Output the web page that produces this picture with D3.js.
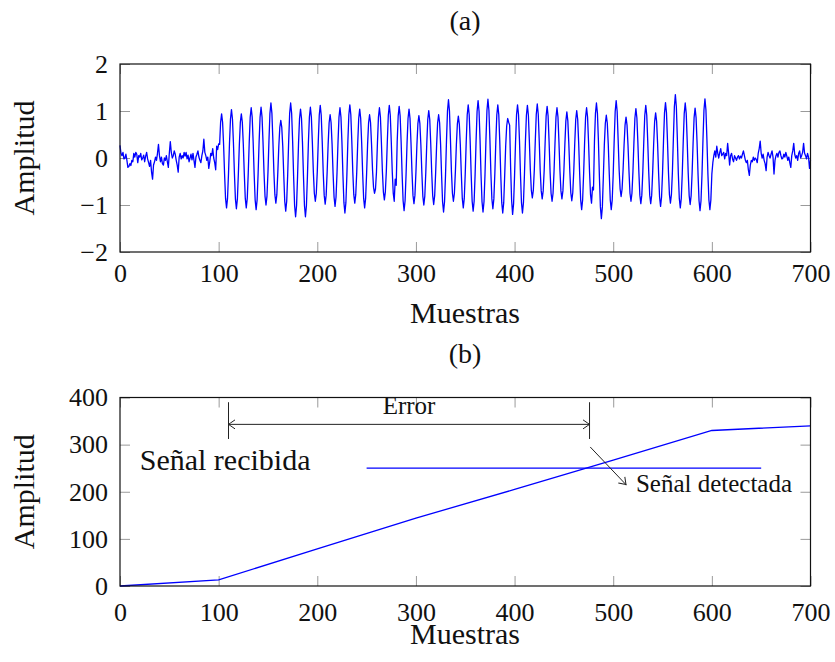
<!DOCTYPE html>
<html>
<head>
<meta charset="utf-8">
<script src="https://cdn.jsdelivr.net/npm/d3@7"></script>
<style>
  body { margin: 0; background: #fff; }
  text { font-family: "Liberation Serif", "Times New Roman", serif; fill: #111; }
</style>
</head>
<body>
<div id="chart"></div>
<script>
// (a) muestras 0..100: ruido antes de la señal
const ruidoInicio = [
  .27, .10, .05, .12, -.02, .00, .08, -.05, -.20, -.18,
  -.12, -.16, -.05, -.08, .10, .02, .12, .08, -.10, .05,
  .02, .10, -.04, .00, .06, -.08, .04, .12, -.02, -.10,
  -.18, -.05, -.30, -.45, -.15, -.08, .02, -.05, .10, .29,
  .05, -.08, .02, -.12, -.15, .00, -.05, .05, -.08, -.20,
  .10, .35, .12, .00, .05, .15, .08, -.05, -.15, -.30,
  .02, .10, -.02, .05, .00, .12, .04, .12, -.02, .06,
  -.08, .00, .08, -.04, .10, -.05, -.20, .02, .08, .15,
  .02, -.05, -.10, .05, .15, .40, .12, .05, -.05, .02,
  -.22, -.08, .10, .05, .20, .00, -.10, -.25, .25, .18,
  .30
];

// (a) muestras 101..600: señal recibida (10 muestras por ciclo)
const senal = [
  .29, .76, .94, .76, .29, -.33, -.86, -1.06, -.86, -.33,
  .32, .83, 1.03, .83, .32, -.33, -.87, -1.08, -.87, -.33,
  .29, .76, .94, .76, .29, -.33, -.86, -1.06, -.86, -.33,
  .33, .87, 1.07, .87, .33, -.34, -.89, -1.10, -.89, -.34,
  .33, .87, 1.08, .87, .33, -.31, -.81, -1.00, -.81, -.31,
  .36, .95, 1.17, .95, .36, -.30, -.78, -.96, -.78, -.30,
  .25, .65, .80, .65, .25, -.35, -.92, -1.13, -.92, -.35,
  .36, .95, 1.17, .95, .36, -.39, -1.01, -1.25, -1.01, -.39,
  .32, .84, 1.04, .84, .32, -.39, -1.01, -1.25, -1.01, -.39,
  .33, .87, 1.08, .87, .33, -.29, -.75, -.92, -.75, -.29,
  .35, .91, 1.12, .91, .35, -.30, -.79, -.98, -.79, -.30,
  .29, .75, .92, .75, .29, -.32, -.83, -1.03, -.83, -.32,
  .33, .87, 1.07, .87, .33, -.36, -.95, -1.17, -.95, -.36,
  .35, .92, 1.13, .92, .35, -.30, -.78, -.96, -.78, -.30,
  .32, .84, 1.04, .84, .32, -.33, -.86, -1.06, -.86, -.33,
  .29, .75, .92, .75, .29, -.25, -.62, -.75, -.66, -.30,
  .33, .87, 1.07, .87, .33, -.28, -.72, -.89, -.72, -.28,
  .35, .91, 1.12, .91, .35, -.29, -.75, -.92, -.45, -.58,
  .34, .89, 1.10, .89, .34, -.35, -.91, -1.12, -.91, -.35,
  .32, .84, 1.04, .84, .32, -.30, -.79, -.97, -.79, -.30,
  .28, .73, .90, .73, .28, -.31, -.81, -1.00, -.81, -.31,
  .31, .82, 1.01, .82, .31, -.31, -.80, -.99, -.80, -.31,
  .29, .75, .92, .75, .29, -.36, -.93, -1.15, -.93, -.36,
  .38, 1.00, 1.24, 1.00, .38, -.29, -.75, -.92, -.75, -.29,
  .28, .72, .89, .72, .28, -.33, -.86, -1.06, -.86, -.33,
  .35, .92, 1.13, .92, .35, -.35, -.92, -1.13, -.92, -.35,
  .38, .99, 1.22, .99, .38, -.36, -.93, -1.15, -.93, -.36,
  .39, 1.01, 1.25, 1.01, .39, -.33, -.87, -1.08, -.87, -.33,
  .35, .92, 1.13, .92, .35, -.36, -.95, -1.17, -.95, -.36,
  .26, .68, .84, .76, .70, -.20, -.90, -1.20, -.97, -.37,
  .35, .92, 1.13, .92, .35, -.36, -.95, -1.17, -.95, -.36,
  .35, .91, 1.12, .91, .35, -.26, -.69, -.85, -.69, -.26,
  .36, .93, 1.15, .93, .36, -.27, -.70, -.87, -.70, -.27,
  .34, .89, 1.10, .89, .34, -.29, -.75, -.92, -.75, -.29,
  .33, .87, 1.07, .87, .33, -.27, -.70, -.87, -.70, -.27,
  .30, .79, .98, .79, .30, -.28, -.74, -.91, -.74, -.28,
  .31, .82, 1.01, .82, .31, -.34, -.89, -1.10, -.89, -.34,
  .33, .87, 1.07, .87, .33, -.30, -.78, -.96, -.62, -.68,
  .36, .95, 1.17, .95, .36, -.40, -1.04, -1.29, -1.04, -.40,
  .28, .74, .91, .74, .28, -.34, -.89, -1.10, -.89, -.34,
  .38, .99, 1.22, .99, .38, -.25, -.66, -.82, -.66, -.25,
  .27, .70, .87, .70, .27, -.29, -.75, -.92, -.75, -.29,
  .33, .85, 1.05, .85, .33, -.30, -.79, -.97, -.79, -.30,
  .35, .91, 1.12, .91, .35, -.30, -.79, -.97, -.79, -.30,
  .30, .78, .96, .78, .30, -.32, -.83, -1.03, -.83, -.32,
  .37, .96, 1.18, .96, .37, -.30, -.78, -.96, -.78, -.30,
  .42, 1.09, 1.35, 1.09, .42, -.33, -.86, -1.06, -.86, -.33,
  .36, .95, 1.17, .95, .36, -.31, -.80, -.99, -.80, -.31,
  .33, .86, 1.06, .86, .33, -.35, -.91, -1.12, -.91, -.35,
  .39, 1.02, 1.26, 1.02, .39, -.34, -.89, -1.10, -.89, -.34
];

// (a) muestras 601..700: ruido después de la señal
const ruidoFin = [
  -.10, .05, .15, .02, .25, .10, .00, .12, .20, .05,
  .08, .12, -.02, .10, .05, .31, .10, -.15, .05, .10,
  -.02, -.08, .05, .00, -.05, .02, .05, -.02, .04, .00,
  .08, .15, .05, -.05, -.10, -.05, -.25, -.37, -.15, -.05,
  -.08, .02, -.05, .00, -.03, -.10, .10, .20, .36, .10,
  .00, .08, -.05, -.12, -.27, .02, .12, .05, .00, .08,
  .15, .02, -.34, -.05, .05, .10, .02, .12, .15, .05,
  -.02, .00, .08, .02, .12, .04, -.05, .02, -.10, -.20,
  .05, .15, .31, .08, .00, .05, -.05, .10, .15, .00,
  .05, .12, .31, .10, .05, -.02, .10, .02, -.22, -.05
];

const amplitud = ruidoInicio.concat(senal, ruidoFin);

// (b) señal recibida (acumulada) y nivel detectado
const muestrasB = [0, 100, 200, 300, 400, 500, 600, 700];
const recibida = [0, 13, 79, 144, 205, 267, 330, 340];
const detectadaX = [250, 650];
const detectadaY = 250;
const errorInicio = 110, errorFin = 476;

// ticks
const xTicks = [0, 100, 200, 300, 400, 500, 600, 700];
const yTicksA = [-2, -1, 0, 1, 2];
const yTicksB = [0, 100, 200, 300, 400];

const width = 835, height = 662;
const left = 120, right = 810.5;

const svg = d3.select("#chart").append("svg")
  .attr("width", width).attr("height", height);

const defs = svg.append("defs");
defs.append("marker")
  .attr("id", "punta")
  .attr("viewBox", "-8 -6 10 12")
  .attr("refX", 0).attr("refY", 0)
  .attr("markerWidth", 10).attr("markerHeight", 12)
  .attr("markerUnits", "userSpaceOnUse")
  .attr("orient", "auto-start-reverse")
  .append("path")
  .attr("d", "M-6.5,-4.5 Q-1.5,-1 0,0 Q-1.5,1 -6.5,4.5")
  .attr("fill", "none").attr("stroke", "#222").attr("stroke-width", 1);

function panel(x, y, yTicks, fmt, padX) {
  const g = svg.append("g");
  const [y0, y1] = y.range();

  const ejeX = g.append("g")
    .attr("transform", `translate(0,${y0})`)
    .call(d3.axisBottom(x).tickValues(xTicks).tickSizeInner(-10).tickSizeOuter(0).tickPadding(padX));
  g.append("g")
    .attr("transform", `translate(0,${y1})`)
    .call(d3.axisTop(x).tickValues(xTicks).tickSizeInner(-10).tickSizeOuter(0).tickFormat(""));
  g.append("g")
    .attr("transform", `translate(${left},0)`)
    .call(d3.axisLeft(y).tickValues(yTicks).tickSizeInner(-10).tickSizeOuter(0).tickPadding(12).tickFormat(fmt));
  g.append("g")
    .attr("transform", `translate(${right},0)`)
    .call(d3.axisRight(y).tickValues(yTicks).tickSizeInner(-10).tickSizeOuter(0).tickFormat(""));

  g.selectAll(".domain").remove();
  g.selectAll(".tick line").attr("stroke", "#9a9a9a").attr("stroke-width", 1);
  g.selectAll(".tick text").attr("font-size", 26)
    .attr("font-family", '"Liberation Serif", serif').attr("fill", "#111");
  ejeX.selectAll(".tick text").attr("dy", "0.72em");

  return g;
}

function marco(g, y) {
  const [y0, y1] = y.range();
  g.append("rect")
    .attr("x", left).attr("y", y1)
    .attr("width", right - left).attr("height", y0 - y1)
    .attr("fill", "none").attr("stroke", "#111").attr("stroke-width", 1.2);
}

const fmtNum = d => d < 0 ? "\u2212" + Math.abs(d) : String(d);

// ---------- (a) ----------
const xA = d3.scaleLinear().domain([0, 700]).range([left, right]);
const yA = d3.scaleLinear().domain([-2, 2]).range([252, 64]);
const gA = panel(xA, yA, yTicksA, fmtNum, 11);

gA.append("path")
  .datum(amplitud)
  .attr("fill", "none")
  .attr("stroke", "#0000ff")
  .attr("stroke-width", 1.3)
  .attr("stroke-linejoin", "round")
  .attr("d", d3.line().x((d, i) => xA(i)).y(d => yA(d)));
marco(gA, yA);

svg.append("text").attr("x", 465).attr("y", 30)
  .attr("text-anchor", "middle").attr("font-size", 28).text("(a)");
svg.append("text").attr("x", 465).attr("y", 323)
  .attr("text-anchor", "middle").attr("font-size", 30).text("Muestras");
svg.append("text").attr("transform", `translate(34,${(252 + 64) / 2}) rotate(-90)`)
  .attr("text-anchor", "middle").attr("font-size", 30).text("Amplitud");

// ---------- (b) ----------
const xB = d3.scaleLinear().domain([0, 700]).range([left, right]);
const yB = d3.scaleLinear().domain([0, 400]).range([586, 397.5]);
const gB = panel(xB, yB, yTicksB, fmtNum, 16);

gB.append("path")
  .datum(muestrasB.map((m, i) => [m, recibida[i]]))
  .attr("fill", "none")
  .attr("stroke", "#0000ff")
  .attr("stroke-width", 1.3)
  .attr("d", d3.line().x(d => xB(d[0])).y(d => yB(d[1])));

gB.append("line")
  .attr("x1", xB(detectadaX[0])).attr("x2", xB(detectadaX[1]))
  .attr("y1", yB(detectadaY)).attr("y2", yB(detectadaY))
  .attr("stroke", "#0000ff").attr("stroke-width", 1.3);

// error bracket
[errorInicio, errorFin].forEach(m => {
  gB.append("line")
    .attr("x1", xB(m)).attr("x2", xB(m))
    .attr("y1", yB(390)).attr("y2", yB(312))
    .attr("stroke", "#222").attr("stroke-width", 1);
});
gB.append("line")
  .attr("x1", xB(errorInicio)).attr("x2", xB(errorFin))
  .attr("y1", yB(343)).attr("y2", yB(343))
  .attr("stroke", "#222").attr("stroke-width", 1)
  .attr("marker-start", "url(#punta)").attr("marker-end", "url(#punta)");
gB.append("text")
  .attr("x", xB((errorInicio + errorFin) / 2)).attr("y", yB(364))
  .attr("text-anchor", "middle").attr("font-size", 25).text("Error");

// pin to detected signal label
gB.append("line")
  .attr("x1", xB(476.7)).attr("y1", yB(295))
  .attr("x2", xB(513)).attr("y2", yB(215))
  .attr("stroke", "#222").attr("stroke-width", 1)
  .attr("marker-end", "url(#punta)");
gB.append("text")
  .attr("x", xB(523)).attr("y", yB(200))
  .attr("font-size", 25).text("Señal detectada");

gB.append("text")
  .attr("x", xB(20)).attr("y", yB(245.5))
  .attr("font-size", 30).text("Señal recibida");

marco(gB, yB);

svg.append("text").attr("x", 465).attr("y", 363)
  .attr("text-anchor", "middle").attr("font-size", 28).text("(b)");
svg.append("text").attr("x", 465).attr("y", 644)
  .attr("text-anchor", "middle").attr("font-size", 30).text("Muestras");
svg.append("text").attr("transform", `translate(34,${(586 + 397.5) / 2}) rotate(-90)`)
  .attr("text-anchor", "middle").attr("font-size", 30).text("Amplitud");
</script>
</body>
</html>
